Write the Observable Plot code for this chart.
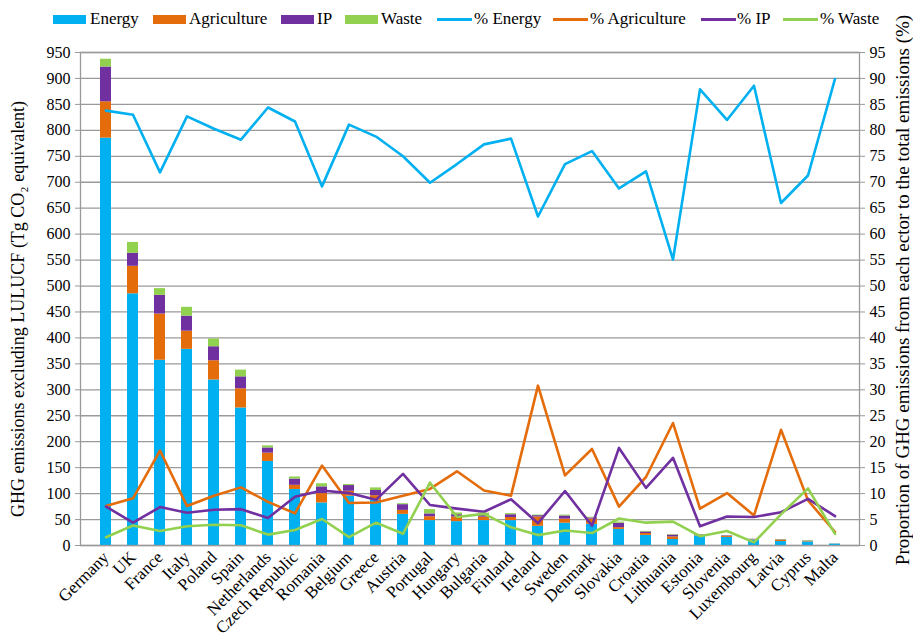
<!DOCTYPE html>
<html>
<head>
<meta charset="utf-8">
<script src="https://cdn.jsdelivr.net/npm/d3@7"></script>
<script src="https://cdn.jsdelivr.net/npm/@observablehq/plot@0.6"></script>
<style>
  body { margin: 0; background: #fff; }
  #wrap { position: relative; width: 913px; height: 640px; font-family: "Times New Roman", "Liberation Serif", "DejaVu Serif", Times, serif; }
  #legend { position: absolute; left: 0; top: 0; width: 913px; height: 40px; z-index: 2; }
  .lg-sw { position: absolute; }
  .lg-tx { position: absolute; top: 9px; font-size: 17px; line-height: 20px; color: #000; white-space: nowrap; }
</style>
</head>
<body>
<div id="wrap"><div id="legend"></div></div>
<script>
const countries = ["Germany","UK","France","Italy","Poland","Spain","Netherlands","Czech Republic","Romania","Belgium","Greece","Austria","Portugal","Hungary","Bulgaria","Finland","Ireland","Sweden","Denmark","Slovakia","Croatia","Lithuania","Estonia","Slovenia","Luxembourg","Latvia","Cyprus","Malta"];

// Emissions by sector (Tg CO2 eq.)
const energy      = [785,485,357,378,319,265,162,108,82,95,87,60,48,46,48,48,37,43,41,31,19.5,11.6,18.5,15.6,10.6,7.6,6.8,2.7];
const agriculture = [70,53,89,35,37,37,16,8,18,9.5,9,7.7,7.5,8.9,6.6,5.9,18,7.8,10,3.4,3.6,5,1.5,1.9,0.7,2.6,0.8,0.1];
const ip          = [67,25,36,29,27,23,10,12,13,11,10,11,5.4,4.4,4,5.4,2.5,6.1,2.1,8.5,3,3.5,0.8,1.1,0.7,0.7,0.9,0.2];
const waste       = [15,21,13,17,15,13,4,4,6,2,5,1.8,8.3,3.4,3.8,2.1,1.2,1.7,1.3,2.3,1.2,1,0.4,0.5,0.1,0.7,1,0.1];

// Share of each sector in total emissions (%)
const pctEnergy      = [83.8,83.0,71.9,82.7,80.3,78.2,84.4,81.7,69.2,81.1,78.8,75.0,69.9,73.5,77.3,78.4,63.4,73.5,76.0,68.8,72.1,55.1,87.9,82.0,88.6,66.0,71.3,89.9];
const pctAgriculture = [7.6,9.1,18.3,7.6,9.6,11.2,8.4,6.2,15.4,8.2,8.3,9.6,10.9,14.3,10.6,9.6,30.8,13.5,18.6,7.5,13.2,23.6,7.1,10.1,5.8,22.3,8.7,2.6];
const pctIP          = [7.5,4.4,7.4,6.3,6.9,7.0,5.3,9.4,10.6,10.1,8.8,13.8,7.8,7.1,6.5,8.9,4.3,10.5,3.8,18.8,11.1,16.9,3.7,5.6,5.5,6.4,9.0,5.65];
const pctWaste       = [1.6,3.85,2.8,3.7,4.0,3.9,2.1,3.0,5.1,1.6,4.4,2.25,12.1,5.5,6.1,3.5,2.0,2.9,2.4,5.2,4.4,4.6,1.8,2.8,0.6,6.0,11.0,2.25];

const sectors = ["Energy","Agriculture","IP","Waste"];
const colors  = ["#00b0f0","#e46c0a","#7030a0","#92d050"];
const lineNames = ["% Energy","% Agriculture","% IP","% Waste"];
const leftTicks = d3.range(0, 951, 50);
const leftTitle = "GHG emissions excluding LULUCF (Tg CO\u2082 equivalent)";
const rightTitle = "Proportion of GHG emissions from each ector to the total emissions (%)";

const sectorValues = [energy, agriculture, ip, waste];
const pctValues = [pctEnergy, pctAgriculture, pctIP, pctWaste];

const barRows = sectors.flatMap((s, k) => countries.map((c, i) => ({country: c, sector: s, value: sectorValues[k][i]})));
const lineRows = pctValues.map(arr => countries.map((c, i) => ({country: c, pct: arr[i]})));

const FONT = "'Times New Roman', 'Liberation Serif', 'DejaVu Serif', Times, serif";

const chart = Plot.plot({
  width: 913,
  height: 640,
  marginTop: 52,
  marginBottom: 95,
  marginLeft: 80,
  marginRight: 54,
  style: {fontFamily: FONT, fontSize: "16px", color: "#000", background: "transparent"},
  x: {domain: countries, paddingInner: 0.6, paddingOuter: 0.3},
  y: {domain: [0, 950]},
  color: {domain: sectors, range: colors},
  marks: [
    Plot.gridY(leftTicks, {stroke: "#9a9a9a", strokeOpacity: 1, strokeWidth: 1.3}),
    Plot.barY(barRows, {x: "country", y: "value", fill: "sector"}),
    ...lineRows.map((rows, k) => Plot.lineY(rows, {x: "country", y: d => d.pct * 10, stroke: colors[k], strokeWidth: 2.6})),
    Plot.frame({stroke: "#9a9a9a", strokeWidth: 1.3}),
    Plot.axisY({anchor: "left", ticks: leftTicks, tickSize: 5, tickPadding: 5, stroke: "#9a9a9a", label: null, fontSize: 16, fontFamily: FONT}),
    Plot.axisY({anchor: "right", ticks: leftTicks, tickFormat: d => String(d / 10), tickSize: 5, tickPadding: 5, stroke: "#9a9a9a", label: null, fontSize: 16, fontFamily: FONT}),
    Plot.axisX({tickRotate: -45, tickSize: 0, tickPadding: 9, label: null, fontSize: 17, fontFamily: FONT}),
    Plot.text([leftTitle], {frameAnchor: "left", textAnchor: "middle", dx: -62, dy: 10, rotate: -90, text: d => d, fontSize: 18, fontFamily: FONT}),
    Plot.text([rightTitle], {frameAnchor: "right", textAnchor: "middle", dx: 43, dy: -9, rotate: -90, text: d => d, fontSize: 19, fontFamily: FONT})
  ]
});
document.getElementById("wrap").appendChild(chart);

// Legend
const legend = document.getElementById("legend");
const boxItems = [
  {label: "Energy", sw: 53, tx: 90},
  {label: "Agriculture", sw: 153, tx: 189},
  {label: "IP", sw: 281, tx: 317},
  {label: "Waste", sw: 345, tx: 381}
];
boxItems.forEach((it, k) => {
  const s = document.createElement("div");
  s.className = "lg-sw";
  Object.assign(s.style, {left: it.sw + "px", top: "15px", width: "33px", height: "9px", background: colors[k]});
  legend.appendChild(s);
  const t = document.createElement("div");
  t.className = "lg-tx"; t.style.left = it.tx + "px"; t.textContent = it.label;
  legend.appendChild(t);
});
const lineItems = [
  {label: lineNames[0], sw: 437, tx: 474},
  {label: lineNames[1], sw: 553, tx: 590},
  {label: lineNames[2], sw: 701, tx: 737},
  {label: lineNames[3], sw: 783, tx: 820}
];
lineItems.forEach((it, k) => {
  const s = document.createElement("div");
  s.className = "lg-sw";
  Object.assign(s.style, {left: it.sw + "px", top: "18px", width: "35px", height: "3px", background: colors[k]});
  legend.appendChild(s);
  const t = document.createElement("div");
  t.className = "lg-tx"; t.style.left = it.tx + "px"; t.textContent = it.label;
  legend.appendChild(t);
});
</script>
</body>
</html>
